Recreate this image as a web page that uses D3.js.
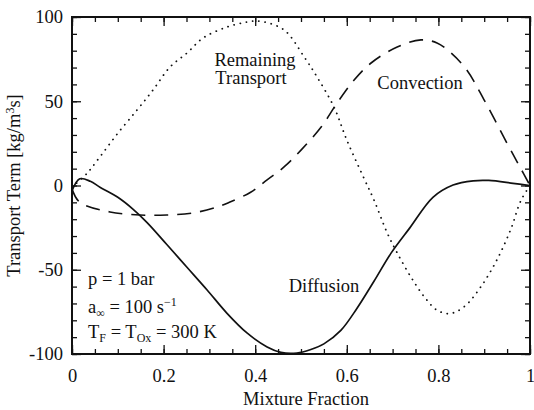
<!DOCTYPE html>
<html>
<head>
<meta charset="utf-8">
<script src="https://cdn.jsdelivr.net/npm/d3@7"></script>
<style>
  body { margin: 0; background: #fff; }
</style>
</head>
<body>
<div id="chart"></div>
<script>
const width = 534;
const height = 410;
const margin = { top: 17, right: 4, bottom: 56, left: 72 };
const serif = "'Liberation Serif', 'Times New Roman', serif";

// data: mixture fraction -> transport term
const diffusionZ = [0, 0.017, 0.04, 0.061, 0.1, 0.133, 0.164, 0.207, 0.251, 0.295, 0.338, 0.382, 0.426, 0.456, 0.491, 0.52, 0.55, 0.587, 0.622, 0.659, 0.697, 0.738, 0.788, 0.832, 0.876, 0.91, 0.963, 1];
const diffusionV = [-3, 4, 2.5, -1, -7, -14, -22, -35, -48.5, -62, -75.7, -87.5, -95.8, -99, -99.4, -97.5, -94, -86, -73, -57, -40, -25, -7, 0.3, 2.8, 3, 1.3, 0];

const convectionZ = [0, 0.017, 0.083, 0.148, 0.207, 0.264, 0.317, 0.345, 0.39, 0.426, 0.463, 0.5, 0.544, 0.579, 0.616, 0.653, 0.71, 0.762, 0.797, 0.828, 0.862, 0.9, 0.95, 0.978, 1];
const convectionV = [-2, -10, -15.7, -17.5, -17.5, -16.3, -12.8, -9.8, -4, 3.3, 11, 21, 34.7, 49, 62.6, 72.7, 82.2, 86.4, 84.6, 78.6, 68.5, 50.7, 25, 11, 0];

const remainingZ = [0, 0.032, 0.061, 0.1, 0.142, 0.177, 0.214, 0.251, 0.286, 0.338, 0.382, 0.41, 0.463, 0.507, 0.535, 0.572, 0.6, 0.638, 0.66, 0.688, 0.71, 0.74, 0.769, 0.797, 0.825, 0.856, 0.893, 0.928, 0.958, 0.98, 1];
const remainingV = [-1, 7, 17, 31, 44.8, 56.7, 70.3, 78.6, 87.5, 94, 97, 97.5, 92.3, 76.3, 64.4, 46.6, 27, 4, -9, -28, -40, -54.3, -66, -74, -76, -72, -60, -44, -26, -9, 0];

const xTickLabels = [0, 0.2, 0.4, 0.6, 0.8, 1];
const yTickLabels = [-100, -50, 0, 50, 100];

const svg = d3.select("#chart")
  .append("svg")
  .attr("width", width)
  .attr("height", height)
  .style("font-family", serif);

const x = d3.scaleLinear().domain([0, 1]).range([margin.left, width - margin.right]);
const y = d3.scaleLinear().domain([-100, 100]).range([height - margin.bottom, margin.top]);

const fmtX = d => d === 0 ? "0" : d === 1 ? "1" : d3.format(".1f")(d);
const fmtY = d => String(d); // plain hyphen minus like the original

// axes with inward ticks on all four sides
const xMinor = d3.range(0, 1.0001, 0.05);
const yMinor = d3.range(-100, 100.001, 10);

function ticks(axis, vals, size) {
  return axis.tickValues(vals).tickSize(size).tickFormat("");
}

svg.append("g").attr("transform", `translate(0,${y(-100)})`)
  .call(ticks(d3.axisTop(x), xMinor, 5));
svg.append("g").attr("transform", `translate(0,${y(-100)})`)
  .call(d3.axisTop(x).tickValues(xTickLabels).tickSize(9).tickFormat(fmtX))
  .call(g => g.selectAll("text").attr("y", 28).attr("dy", 0));
svg.append("g").attr("transform", `translate(0,${y(100)})`)
  .call(ticks(d3.axisBottom(x), xMinor, 5));
svg.append("g").attr("transform", `translate(0,${y(100)})`)
  .call(ticks(d3.axisBottom(x), xTickLabels, 9));

svg.append("g").attr("transform", `translate(${x(0)},0)`)
  .call(ticks(d3.axisRight(y), yMinor, 5));
svg.append("g").attr("transform", `translate(${x(0)},0)`)
  .call(d3.axisRight(y).tickValues(yTickLabels).tickSize(9).tickFormat(fmtY))
  .call(g => g.selectAll("text").attr("x", -9).attr("text-anchor", "end"));
svg.append("g").attr("transform", `translate(${x(1)},0)`)
  .call(ticks(d3.axisLeft(y), yMinor, 5));
svg.append("g").attr("transform", `translate(${x(1)},0)`)
  .call(ticks(d3.axisLeft(y), yTickLabels, 9));

svg.selectAll(".domain").remove();
svg.selectAll(".tick line").attr("stroke", "#111").attr("stroke-width", 1.3);
svg.selectAll(".tick text").style("font-size", "18.5px");

// frame
svg.append("rect")
  .attr("x", x(0)).attr("y", y(100))
  .attr("width", x(1) - x(0)).attr("height", y(-100) - y(100))
  .attr("fill", "none").attr("stroke", "#111").attr("stroke-width", 2);

// curves
const line = d3.line().x(d => x(d[0])).y(d => y(d[1])).curve(d3.curveCatmullRom);

svg.append("path")
  .datum(d3.zip(remainingZ, remainingV))
  .attr("d", line)
  .attr("fill", "none").attr("stroke", "#111").attr("stroke-width", 1.8)
  .attr("stroke-linecap", "round").attr("stroke-dasharray", "0.1,6.2");

svg.append("path")
  .datum(d3.zip(convectionZ, convectionV))
  .attr("d", line)
  .attr("fill", "none").attr("stroke", "#111").attr("stroke-width", 1.6)
  .attr("stroke-dasharray", "14,9");

svg.append("path")
  .datum(d3.zip(diffusionZ, diffusionV))
  .attr("d", line)
  .attr("fill", "none").attr("stroke", "#111").attr("stroke-width", 1.7);

// labels
const fs = "18.5px";
function label(tx, ty, str, anchor) {
  return svg.append("text").attr("x", tx).attr("y", ty)
    .attr("text-anchor", anchor || "start").style("font-size", fs).text(str);
}
label(255, 66, "Remaining", "middle");
label(251, 84, "Transport", "middle");
label(420, 89, "Convection", "middle");
label(324, 292, "Diffusion", "middle");

label(88, 285, "p = 1 bar");

const a = svg.append("text").attr("x", 88).attr("y", 313).style("font-size", fs);
a.append("tspan").text("a");
a.append("tspan").attr("dy", 4).style("font-size", "12px").text("∞");
a.append("tspan").attr("dy", -4).text(" = 100 s");
a.append("tspan").attr("dy", -7).style("font-size", "12px").text("−1");

const t = svg.append("text").attr("x", 88).attr("y", 338).style("font-size", fs);
t.append("tspan").text("T");
t.append("tspan").attr("dy", 4).style("font-size", "12px").text("F");
t.append("tspan").attr("dy", -4).text(" = T");
t.append("tspan").attr("dy", 4).style("font-size", "12px").text("Ox");
t.append("tspan").attr("dy", -4).text(" = 300 K");

// axis titles
svg.append("text")
  .attr("x", (x(0) + x(1)) / 2 + 5).attr("y", 405)
  .attr("text-anchor", "middle").style("font-size", fs)
  .text("Mixture Fraction");

const yl = svg.append("text")
  .attr("transform", `translate(20,${(y(-100) + y(100)) / 2}) rotate(-90)`)
  .attr("text-anchor", "middle").style("font-size", fs);
yl.append("tspan").text("Transport Term [kg/m");
yl.append("tspan").attr("dy", -6).style("font-size", "12px").text("3");
yl.append("tspan").attr("dy", 6).text("s]");

svg.selectAll("text").style("font-family", serif).attr("fill", "#111");
</script>
</body>
</html>
